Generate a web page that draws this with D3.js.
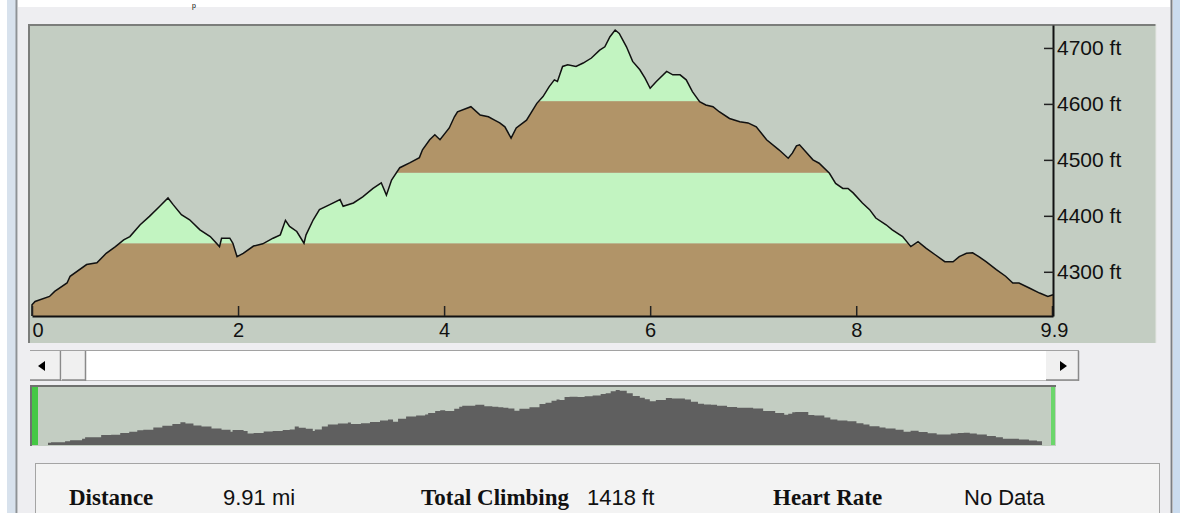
<!DOCTYPE HTML>
<html>
<head>
<meta charset="utf-8">
<style>
body { margin: 0; background: #fff; }
.axis text { font-family: "Liberation Sans", Arial, sans-serif; fill: #111; }
.axis .domain { stroke: #111; stroke-width: 2; }
.axis .tick line { stroke: #222; stroke-width: 1.5; }
.lbl { font-family: "Liberation Serif", serif; font-weight: bold; font-size: 23px; fill: #111; }
.val { font-family: "Liberation Sans", Arial, sans-serif; font-size: 22px; fill: #111; }
</style>
</head>
<body>
<svg width="1180" height="513"></svg>
<script src="https://d3js.org/d3.v7.min.js"></script>
<script>
// elevation profile (miles, feet)
var miles = [0.00,0.03,0.17,0.22,0.34,0.37,0.53,0.63,0.72,0.81,0.89,0.95,1.05,1.14,1.24,1.32,1.37,1.45,1.53,1.63,
  1.73,1.82,1.84,1.92,1.95,1.99,2.05,2.15,2.24,2.34,2.41,2.46,2.50,2.57,2.64,2.66,2.73,2.79,2.89,2.99,
  3.02,3.12,3.21,3.31,3.39,3.44,3.49,3.57,3.67,3.76,3.79,3.86,3.91,3.96,4.05,4.10,4.13,4.26,4.35,4.43,
  4.49,4.54,4.59,4.65,4.70,4.80,4.90,4.96,5.02,5.07,5.10,5.15,5.20,5.28,5.35,5.43,5.51,5.56,5.61,5.66,
  5.70,5.77,5.83,5.90,5.95,6.00,6.06,6.16,6.22,6.29,6.35,6.41,6.48,6.54,6.61,6.67,6.77,6.87,6.95,7.03,
  7.13,7.25,7.34,7.38,7.42,7.45,7.58,7.64,7.74,7.80,7.87,7.92,7.97,8.06,8.13,8.19,8.29,8.35,8.45,8.53,
  8.60,8.68,8.77,8.86,8.94,9.00,9.07,9.13,9.19,9.26,9.36,9.45,9.52,9.58,9.68,9.78,9.86,9.91];
var elevFt = [4241,4247,4256,4265,4280,4292,4313,4316,4333,4345,4357,4363,4384,4399,4417,4432,4420,4402,4393,4375,
  4363,4345,4360,4360,4351,4327,4333,4346,4350,4360,4366,4392,4381,4372,4351,4366,4393,4411,4420,4429,
  4417,4423,4434,4449,4459,4437,4464,4486,4495,4504,4518,4536,4545,4536,4557,4577,4586,4595,4580,4577,
  4571,4566,4559,4539,4557,4571,4601,4613,4631,4643,4640,4667,4670,4667,4673,4682,4696,4702,4720,4732,
  4726,4702,4676,4661,4646,4628,4640,4658,4652,4652,4643,4622,4604,4598,4595,4586,4574,4568,4566,4559,
  4536,4518,4503,4512,4525,4527,4500,4494,4476,4458,4449,4449,4441,4423,4411,4396,4384,4375,4363,4345,
  4354,4342,4330,4318,4318,4327,4333,4334,4327,4318,4304,4292,4280,4280,4271,4262,4256,4259];

var xTicks = [0, 2, 4, 6, 8, 9.9];
var yTicks = [4300, 4400, 4500, 4600, 4700];
var bandBreaks = [4221, 4351, 4477, 4605, 4741];
var bandColors = ["#b19468", "#c2f4c1", "#b19468", "#c2f4c1"];
var statLabels = ["Distance", "Total Climbing", "Heart Rate"];
var statValues = ["9.91 mi", "1418 ft", "No Data"];

var svg = d3.select("svg");
var data = miles.map(function(m, i) { return {m: m, e: elevFt[i]}; });

// window chrome
svg.append("rect").attr("x", 0).attr("y", 0).attr("width", 1180).attr("height", 513).attr("fill", "#fff");
svg.append("rect").attr("x", 7).attr("y", 0).attr("width", 9).attr("height", 513).attr("fill", "#d8e2ed");
svg.append("rect").attr("x", 18).attr("y", 7).attr("width", 1152).attr("height", 506).attr("fill", "#eeeef1");
svg.append("line").attr("x1", 16.5).attr("x2", 16.5).attr("y1", 0).attr("y2", 513).attr("stroke", "#8e9296").attr("stroke-width", 2);
svg.append("line").attr("x1", 1171.5).attr("x2", 1171.5).attr("y1", 0).attr("y2", 513).attr("stroke", "#7c7f84").attr("stroke-width", 2);
svg.append("rect").attr("x", 1173).attr("y", 0).attr("width", 7).attr("height", 513).attr("fill", "#cbdcef");
// bit of a window title that pokes in at the top
svg.append("text").attr("x", 192).attr("y", 8).attr("font-family", "Liberation Sans, sans-serif")
  .attr("font-size", 7).attr("fill", "#000").text("p");

// main chart frame
svg.append("rect").attr("x", 28).attr("y", 24).attr("width", 1128).attr("height", 319).attr("fill", "#c3cdc2");
svg.append("line").attr("x1", 28).attr("x2", 1156).attr("y1", 25).attr("y2", 25).attr("stroke", "#7b7d7b").attr("stroke-width", 2);
svg.append("line").attr("x1", 29).attr("x2", 29).attr("y1", 24).attr("y2", 343).attr("stroke", "#7b7d7b").attr("stroke-width", 2);
svg.append("line").attr("x1", 1156).attr("x2", 1156).attr("y1", 24).attr("y2", 343).attr("stroke", "#e4e6e4").attr("stroke-width", 1);

var x = d3.scaleLinear().domain([0, 9.91]).range([32, 1053]);
var y = d3.scaleLinear().domain([4221, 4741]).range([316, 25]);

var area = d3.area()
  .x(function(d) { return x(d.m); })
  .y0(y(bandBreaks[0]))
  .y1(function(d) { return y(d.e); });

svg.append("clipPath").attr("id", "under")
  .append("path").attr("d", area(data));

svg.append("g")
  .attr("clip-path", "url(#under)")
  .selectAll("rect")
  .data(bandColors)
  .enter().append("rect")
    .attr("x", x(0))
    .attr("width", x(9.91) - x(0))
    .attr("y", function(d, i) { return y(bandBreaks[i + 1]); })
    .attr("height", function(d, i) { return y(bandBreaks[i]) - y(bandBreaks[i + 1]); })
    .attr("fill", function(d) { return d; });

var line = d3.line()
  .x(function(d) { return x(d.m); })
  .y(function(d) { return y(d.e); });

svg.append("path")
  .attr("d", line([{m: 0, e: bandBreaks[0]}].concat(data)))
  .attr("fill", "none")
  .attr("stroke", "#111")
  .attr("stroke-width", 1.5)
  .attr("stroke-linejoin", "miter");

var xAxis = svg.append("g")
  .attr("class", "axis")
  .attr("transform", "translate(0," + y(bandBreaks[0]) + ")")
  .call(d3.axisBottom(x).tickValues(xTicks).tickSize(-10).tickSizeOuter(0).tickPadding(7)
    .tickFormat(function(d) { return d; }));
xAxis.selectAll("text").attr("font-size", 20)
  .attr("text-anchor", function(d) { return d === 0 ? "start" : "middle"; })
  .attr("dx", function(d) { return d === 9.9 ? 2 : 0; });

var yAxis = svg.append("g")
  .attr("class", "axis")
  .attr("transform", "translate(" + x(9.91) + ",0)")
  .call(d3.axisRight(y).tickValues(yTicks).tickSize(0).tickSizeOuter(0).tickPadding(4)
    .tickFormat(function(d) { return d + " ft"; }));
yAxis.selectAll(".tick line").attr("x1", -9).attr("x2", 1);
yAxis.selectAll("text").attr("font-size", 21);

// scrollbar
svg.append("rect").attr("x", 30).attr("y", 350).attr("width", 1049).attr("height", 31).attr("fill", "#fff");
svg.append("line").attr("x1", 30).attr("x2", 1079).attr("y1", 350.5).attr("y2", 350.5).attr("stroke", "#a2a2a2");
svg.append("line").attr("x1", 30).attr("x2", 1079).attr("y1", 380.5).attr("y2", 380.5).attr("stroke", "#b9b9b9");
[[30, 31], [62, 24], [1046, 33]].forEach(function(b) {
  svg.append("rect").attr("x", b[0]).attr("y", 351).attr("width", b[1]).attr("height", 29).attr("fill", "#f0f0f0");
  svg.append("line").attr("x1", b[0] + b[1] - 0.5).attr("x2", b[0] + b[1] - 0.5).attr("y1", 351).attr("y2", 381)
    .attr("stroke", "#8a8a8a").attr("stroke-width", 1.5);
  svg.append("line").attr("x1", b[0]).attr("x2", b[0] + b[1]).attr("y1", 380).attr("y2", 380)
    .attr("stroke", "#8a8a8a").attr("stroke-width", 1.5);
});
svg.append("path").attr("d", "M38,366L45,361L45,371Z").attr("fill", "#000");
svg.append("path").attr("d", "M1060,361L1067,366L1060,371Z").attr("fill", "#000");

// overview strip
var xm = d3.scaleLinear().domain([0, 9.91]).range([48, 1042]);
var ym = d3.scaleLinear().domain([4221, 4732]).range([445, 390]);
svg.append("rect").attr("x", 30).attr("y", 385).attr("width", 1026).attr("height", 61).attr("fill", "#c3cdc2");
svg.append("line").attr("x1", 30).attr("x2", 1056).attr("y1", 386).attr("y2", 386).attr("stroke", "#6f716f").attr("stroke-width", 2);
svg.append("line").attr("x1", 31).attr("x2", 31).attr("y1", 385).attr("y2", 446).attr("stroke", "#6f716f").attr("stroke-width", 2);
svg.append("path")
  .attr("d", d3.area().curve(d3.curveStepAfter)
    .x(function(d) { return xm(d.m); })
    .y0(445)
    .y1(function(d) { return ym(d.e); })(data))
  .attr("fill", "#5f5f5f");
svg.append("rect").attr("x", 32).attr("y", 387).attr("width", 6).attr("height", 58).attr("fill", "#45c845");
svg.append("rect").attr("x", 1051).attr("y", 387).attr("width", 4).attr("height", 58).attr("fill", "#6bd66b");

// stats box
svg.append("rect").attr("x", 35.5).attr("y", 463.5).attr("width", 1124).attr("height", 60)
  .attr("fill", "#f3f3f3").attr("stroke", "#a4a4a4");
var statX = [69, 421, 773];
var valX = [223, 587, 964];
svg.selectAll(".lbl").data(statLabels).enter().append("text")
  .attr("class", "lbl")
  .attr("x", function(d, i) { return statX[i]; })
  .attr("y", 505)
  .text(function(d) { return d; });
svg.selectAll(".val").data(statValues).enter().append("text")
  .attr("class", "val")
  .attr("x", function(d, i) { return valX[i]; })
  .attr("y", 505)
  .text(function(d) { return d; });
</script>
</body>
</html>
